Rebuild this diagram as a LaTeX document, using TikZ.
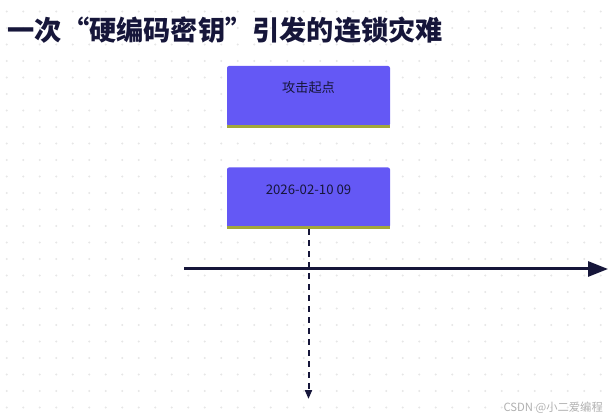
\documentclass[tikz,border=0pt]{standalone}
\usepackage{fontspec}
\setmainfont{Noto Sans CJK SC}
\usetikzlibrary{arrows.meta,positioning,calc}
\definecolor{inkblue}{HTML}{16163A}
\definecolor{eventfill}{HTML}{6458F5}
\definecolor{olivebar}{HTML}{A3A83A}
\definecolor{gridgray}{HTML}{E6E6E6}
\definecolor{markgray}{HTML}{B0B0B0}
\tikzset{
  eventbox/.style={
    rectangle, fill=eventfill, rounded corners=2pt,
    minimum width=163pt, minimum height=60pt, inner sep=0pt
  },
  eventtext/.style={
    font=\fontsize{13.2}{15}\selectfont, color=inkblue, inner sep=0pt
  },
  eventbar/.style={
    line width=3pt, color=olivebar
  },
  timeaxis/.style={
    -{Triangle[length=20pt, width=15pt]}, line width=3pt, color=inkblue
  },
  dropline/.style={
    -{Triangle[length=9pt, width=7pt]}, dash pattern=on 6pt off 5pt,
    line width=2pt, color=inkblue
  },
}

\begin{document}
\begin{tikzpicture}[x=1pt, y=-1pt]
  \useasboundingbox (0,0) rectangle (610,419);
  % dotted background
  \foreach \i in {0,...,36}
    \foreach \j in {-3,...,21}
      \fill[gridgray] (6.7+16.5*\i, 61+16.5*\j) circle (1.1);

  % title
  \node[anchor=west, inner sep=0pt, color=inkblue,
        font=\fontsize{27.2}{30}\selectfont\bfseries] (title) at (7.5,30)
    {一次“硬编码密钥”引发的连锁灾难};

  % events
  \node[eventbox] (start) at (308.5,96) {};
  \draw[eventbar] (start.south west) -- (start.south east);
  \node[eventtext] (startlbl) at ($(start.north)+(0,22)$) {攻击起点};

  \node[eventbox] (first) at (308.5,197.5) {};
  \draw[eventbar] (first.south west) -- (first.south east);
  \node[eventtext] (firstlbl) at ($(first.north)+(0,22)$) {2026-02-10 09};

  % time axis
  \coordinate (axisL) at (184,269);
  \coordinate (axisR) at (608,269);
  \draw[timeaxis] (axisL) -- (axisR);

  % drop line
  \coordinate (dropEnd) at (308.5,399);
  \draw[dropline] ([yshift=-1.5pt]first.south) -- (dropEnd);

  % watermark
  \node[anchor=east, inner sep=0pt, color=markgray,
        font=\fontsize{11.3}{12}\selectfont] (mark) at (603,408)
    {CSDN @小二爱编程};
\end{tikzpicture}
\end{document}
